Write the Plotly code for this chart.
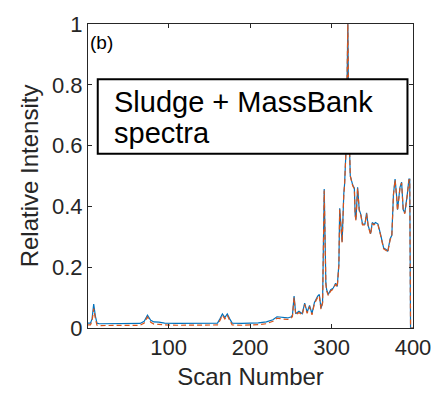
import plotly.graph_objects as go

# Scan numbers at which the chromatogram traces are sampled
scan = [1, 4, 6, 8, 10, 12, 15, 30, 50, 65, 70, 74, 78, 82, 88, 95, 110, 130, 150,
        160, 163, 166, 169, 172, 175, 178, 190, 200, 210, 220, 228, 233, 238, 242,
        246, 250, 252, 254, 256, 260, 264, 267, 270, 273, 276, 279, 281, 283, 285,
        287, 289, 291, 293, 294, 296, 299, 302, 305, 307, 309, 310, 312, 313, 315,
        316, 318, 319, 320, 321, 323, 326, 328, 329, 330, 332, 334, 336, 338, 341,
        343, 345, 348, 350, 352, 354, 357, 360, 364, 367, 369, 372, 374, 376, 378,
        380, 381, 384, 386, 388, 390, 393, 395, 396, 397, 400]

# Sludge extract trace (relative intensity)
sludge = [0.016, 0.016, 0.030, 0.079, 0.040, 0.016, 0.014, 0.014, 0.015, 0.015,
          0.022, 0.042, 0.025, 0.020, 0.019, 0.016, 0.015, 0.015, 0.015,
          0.016, 0.030, 0.046, 0.034, 0.046, 0.030, 0.016, 0.015, 0.015, 0.017,
          0.020, 0.027, 0.037, 0.035, 0.034, 0.033, 0.036, 0.042, 0.105, 0.047,
          0.055, 0.047, 0.082, 0.052, 0.074, 0.047, 0.084, 0.095, 0.105, 0.110,
          0.065, 0.085, 0.457, 0.150, 0.126, 0.110, 0.126, 0.131, 0.147, 0.137,
          0.210, 0.394, 0.326, 0.284, 0.440, 0.473, 0.600, 0.780, 1.000, 0.700,
          0.500, 0.470, 0.460, 0.373, 0.357, 0.463, 0.389, 0.373, 0.342, 0.342,
          0.379, 0.337, 0.310, 0.347, 0.342, 0.347, 0.342, 0.310, 0.263, 0.258,
          0.252, 0.294, 0.305, 0.440, 0.490, 0.430, 0.389, 0.463, 0.480, 0.389,
          0.379, 0.440, 0.490, 0.490, 0.000, 0.000]

# MassBank reference trace (relative intensity)
massbank = [0.010, 0.010, 0.022, 0.064, 0.032, 0.009, 0.008, 0.008, 0.008, 0.009,
            0.016, 0.036, 0.019, 0.013, 0.012, 0.010, 0.009, 0.009, 0.009,
            0.010, 0.025, 0.042, 0.030, 0.042, 0.025, 0.010, 0.009, 0.009, 0.011,
            0.014, 0.022, 0.032, 0.030, 0.029, 0.028, 0.031, 0.038, 0.100, 0.043,
            0.051, 0.043, 0.078, 0.048, 0.070, 0.043, 0.080, 0.091, 0.101, 0.106,
            0.062, 0.082, 0.452, 0.146, 0.122, 0.107, 0.122, 0.128, 0.144, 0.134,
            0.206, 0.390, 0.322, 0.281, 0.436, 0.470, 0.600, 0.780, 1.000, 0.700,
            0.500, 0.468, 0.458, 0.370, 0.354, 0.460, 0.386, 0.370, 0.339, 0.339,
            0.376, 0.334, 0.307, 0.344, 0.339, 0.344, 0.339, 0.307, 0.260, 0.255,
            0.249, 0.291, 0.302, 0.437, 0.487, 0.427, 0.386, 0.460, 0.477, 0.386,
            0.376, 0.437, 0.487, 0.487, 0.000, 0.000]

x_ticks = [100, 200, 300, 400]
y_ticks = [0, 0.2, 0.4, 0.6, 0.8, 1]
y_tick_text = ["0", "0.2", "0.4", "0.6", "0.8", "1"]

INK = "#262626"
FONT = "Liberation Sans, Arial, sans-serif"

fig = go.Figure()
fig.add_trace(go.Scatter(x=scan, y=sludge, mode="lines",
                         line=dict(color="#0072BD", width=1.2)))
fig.add_trace(go.Scatter(x=scan, y=massbank, mode="lines",
                         line=dict(color="#D95319", width=1.2, dash="5px,3px")))

axis_common = dict(showline=True, linecolor=INK, linewidth=1, mirror="ticks",
                   ticks="inside", ticklen=4, tickcolor=INK, showgrid=False,
                   zeroline=False, tickfont=dict(family=FONT, size=22, color=INK))

fig.update_xaxes(range=[1, 400], tickvals=x_ticks, **axis_common,
                 title=dict(text="Scan Number", font=dict(family=FONT, size=24, color=INK),
                            standoff=8))
fig.update_yaxes(range=[0, 1], tickvals=y_ticks, ticktext=y_tick_text, **axis_common,
                 title=dict(text="Relative Intensity", font=dict(family=FONT, size=24, color=INK),
                            standoff=6))

# Legend-style text box
fig.add_shape(type="rect", xref="paper", yref="paper",
              x0=0.030, x1=0.983, y0=0.573, y1=0.818,
              line=dict(color="black", width=2), fillcolor="white", layer="above")
fig.add_annotation(xref="paper", yref="paper", x=0.075, y=0.745,
                   text="Sludge + MassBank", showarrow=False,
                   xanchor="left", yanchor="middle",
                   font=dict(family=FONT, size=29, color="black"))
fig.add_annotation(xref="paper", yref="paper", x=0.075, y=0.64,
                   text="spectra", showarrow=False,
                   xanchor="left", yanchor="middle",
                   font=dict(family=FONT, size=29, color="black"))
fig.add_annotation(xref="paper", yref="paper", x=0.0, y=0.94,
                   text="(b)", showarrow=False, xanchor="left", yanchor="middle",
                   font=dict(family=FONT, size=19, color="black"))

fig.update_layout(width=443, height=397, showlegend=False,
                  plot_bgcolor="white", paper_bgcolor="white",
                  margin=dict(l=88, r=21, t=13, b=67))

fig.write_html("out.html")
